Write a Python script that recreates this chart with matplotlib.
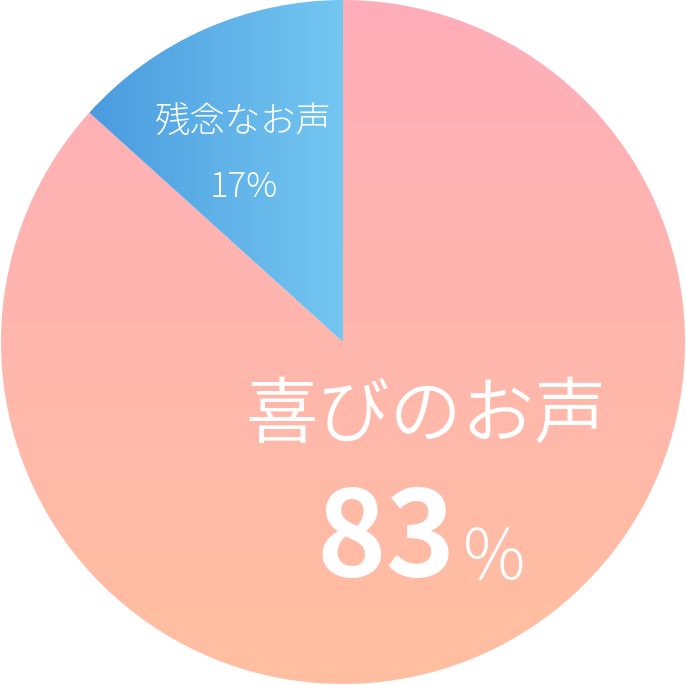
import numpy as np
import matplotlib.pyplot as plt
from matplotlib.colors import to_rgb

plt.rcParams['font.family'] = ['Noto Sans CJK JP', 'DejaVu Sans']

# slices as drawn (angles), labels as printed
labels = ["喜びのお声", "残念なお声"]
shares = [86.7, 13.3]
pct_nums = ["83", "17"]

pink_top, pink_bottom = "#FFAEBA", "#FFBFA0"
blue_left, blue_right = "#4A9BDF", "#74C7F1"

W, H = 686, 685
cx, cy, r = 343, 343, 342


def gradient(c0, c1, n=256):
    a, b = np.array(to_rgb(c0)), np.array(to_rgb(c1))
    t = np.linspace(0, 1, n)[:, None]
    return a + (b - a) * t


fig = plt.figure(figsize=(W / 100, H / 100), dpi=100)
ax = fig.add_axes([0, 0, 1, 1])

wedges, _ = ax.pie(shares, startangle=90, counterclock=False,
                   radius=r, center=(cx, cy), frame=True,
                   wedgeprops=dict(linewidth=0))
ax.set_xlim(0, W)
ax.set_ylim(0, H)
ax.set_aspect('equal')
ax.axis('off')

# pink wedge: vertical gradient over whole pie
wedges[0].set_facecolor('none')
img = ax.imshow(gradient(pink_top, pink_bottom)[:, None, :], origin='upper',
                extent=(cx - r, cx + r, cy - r, cy + r), aspect='auto',
                interpolation='bilinear')
img.set_clip_path(wedges[0])

# blue wedge: horizontal gradient from its left tip to the centre line
wedges[1].set_facecolor('none')
x_left = cx + r * np.cos(np.deg2rad(90 + shares[1] * 3.6))
img2 = ax.imshow(gradient(blue_left, blue_right)[None, :, :], origin='upper',
                 extent=(x_left, cx, cy, cy + r), aspect='auto',
                 interpolation='bilinear')
img2.set_clip_path(wedges[1])

# labels (y measured from top of picture)
ax.text(426, H - 416, labels[0], color='white', fontsize=52,
        fontweight=350, ha='center', va='center')
ax.text(456, H - 541, pct_nums[0], color='white', fontsize=85,
        fontweight='bold', ha='right', va='center')
ax.text(463, H - 560, "%", color='white', fontsize=50,
        fontweight='light', ha='left', va='center')

ax.text(243, H - 123, labels[1], color='white', fontsize=25.5,
        fontweight='light', ha='center', va='center')
ax.text(244, H - 187, pct_nums[1] + "%", color='white', fontsize=25,
        fontweight='light', ha='center', va='center')

fig.savefig('out.png', dpi=100, facecolor='white')
